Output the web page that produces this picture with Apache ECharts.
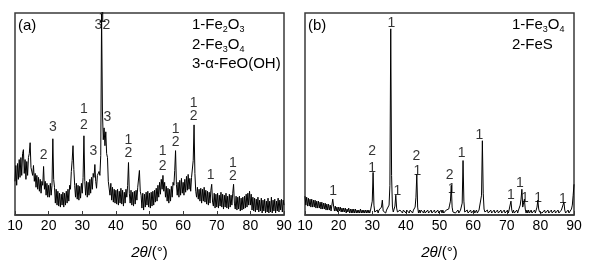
<!DOCTYPE html>
<html>
<head>
<meta charset="utf-8">
<script src="https://cdn.jsdelivr.net/npm/echarts@6/dist/echarts.min.js"></script>
<style>
  html, body { margin: 0; padding: 0; background: #fff; }
  #chart { width: 594px; height: 265px; }
</style>
</head>
<body>
<div id="chart"></div>
<script>
// 2θ sampling: 10° .. 90°, step 0.25°
const thetaStart = 10;
const thetaStep = 0.25;
const xTicks = [10, 20, 30, 40, 50, 60, 70, 80, 90];

// panel (a) intensity (arb. units), one row per 5°
const intensityA = [
  34, 50, 30, 52, 36, 56, 38, 58, 40, 62, 66, 42, 56, 36, 54, 40, 58, 62, 73, 48,
  48, 40, 50, 34, 42, 28, 40, 26, 38, 24, 36, 22, 34, 30, 49, 26, 34, 20, 32, 18,
  30, 18, 32, 20, 30, 77, 36, 28, 12, 26, 10, 24, 9, 22, 8, 21, 10, 23, 8, 22,
  10, 24, 12, 26, 14, 30, 26, 44, 55, 70, 46, 30, 18, 32, 16, 30, 15, 29, 17, 32,
  22, 38, 80, 34, 20, 34, 18, 33, 20, 36, 22, 38, 26, 42, 38, 51, 34, 27, 40, 38,
  44, 40, 60, 203, 105, 76, 88, 70, 84, 62, 58, 34, 32, 20, 32, 15, 28, 13, 26, 12,
  25, 11, 26, 10, 24, 12, 27, 11, 25, 9, 23, 12, 26, 18, 30, 53, 22, 12, 25, 10,
  23, 9, 24, 11, 25, 15, 28, 30, 45, 24, 20, 7, 22, 5, 21, 8, 23, 10, 24, 8,
  22, 7, 23, 9, 24, 10, 25, 13, 27, 14, 30, 18, 33, 21, 36, 26, 40, 24, 33, 18,
  29, 14, 27, 12, 26, 14, 29, 18, 33, 30, 45, 65, 31, 20, 33, 18, 35, 20, 37, 22,
  33, 20, 36, 23, 39, 25, 41, 26, 37, 24, 38, 40, 55, 91, 42, 24, 18, 28, 16, 26,
  14, 27, 12, 26, 14, 28, 13, 25, 11, 24, 10, 23, 12, 25, 31, 13, 9, 22, 7, 21,
  8, 22, 7, 20, 9, 23, 8, 21, 6, 20, 8, 22, 7, 19, 6, 21, 8, 20, 10, 22,
  31, 12, 6, 19, 5, 18, 6, 19, 4, 17, 5, 18, 6, 19, 7, 21, 8, 22, 10, 24,
  10, 21, 5, 18, 4, 17, 3, 16, 5, 18, 3, 15, 4, 17, 2, 15, 4, 16, 2, 14,
  3, 17, 2, 14, 3, 18, 2, 15, 4, 16, 2, 14, 4, 17, 3, 15, 5, 16, 3, 15,
  10
];

// panel (b) intensity (arb. units), one row per 5°
const intensityB = [
  19, 10, 18, 9, 17, 9, 16, 8, 16, 8, 15, 8, 15, 7, 14, 7, 14, 7, 13, 6,
  13, 6, 12, 6, 12, 5, 11, 5, 11, 5, 10, 4, 10, 16, 9, 4, 9, 4, 8, 3,
  8, 4, 8, 3, 7, 3, 7, 3, 7, 2, 6, 3, 7, 2, 6, 2, 6, 2, 6, 2,
  6, 2, 5, 2, 5, 2, 6, 2, 5, 2, 5, 2, 5, 2, 5, 2, 5, 2, 5, 6,
  14, 43, 10, 3, 5, 2, 5, 2, 5, 3, 6, 8, 15, 4, 3, 5, 2, 5, 3, 7,
  10, 30, 188, 40, 8, 3, 6, 9, 20, 7, 3, 5, 2, 5, 3, 5, 2, 5, 3, 5,
  2, 5, 3, 6, 2, 5, 3, 5, 2, 5, 3, 8, 18, 41, 8, 2, 5, 2, 5, 3,
  5, 2, 5, 2, 4, 2, 5, 2, 4, 2, 5, 2, 4, 2, 5, 2, 4, 2, 5, 2,
  4, 2, 5, 2, 5, 2, 4, 2, 5, 3, 5, 6, 10, 14, 30, 8, 3, 2, 5, 2,
  4, 2, 5, 2, 4, 5, 4, 12, 55, 14, 3, 5, 2, 5, 2, 4, 2, 5, 2, 4,
  2, 5, 2, 4, 5, 2, 4, 5, 4, 6, 20, 75, 22, 6, 3, 5, 2, 5, 2, 4,
  2, 5, 2, 4, 2, 5, 2, 4, 2, 5, 2, 4, 2, 5, 2, 4, 2, 5, 2, 4,
  2, 5, 2, 6, 8, 14, 5, 2, 5, 2, 4, 2, 5, 2, 5, 6, 10, 16, 26, 8,
  7, 16, 6, 2, 5, 2, 5, 2, 4, 5, 2, 4, 2, 5, 2, 5, 8, 15, 6, 3,
  2, 5, 2, 4, 2, 5, 2, 4, 2, 5, 2, 4, 2, 5, 2, 4, 2, 5, 2, 4,
  2, 5, 2, 4, 2, 5, 3, 7, 13, 5, 2, 4, 2, 5, 2, 4, 4, 6, 10, 20,
  31
];

// peak labels [2θ, height, phase]
const peakLabelsA = [
  [18.5, 60, "2"], [21.3, 89, "3"],
  [30.5, 107, "1"], [30.5, 91, "2"],
  [33.3, 64, "3"],
  [36.0, 199, "1"], [34.8, 192, "3"], [37.2, 192, "2"],
  [37.5, 99, "3"],
  [43.7, 76, "1"], [43.7, 62, "2"],
  [53.9, 64, "1"], [53.9, 49, "2"],
  [57.8, 87, "1"], [57.8, 74, "2"],
  [63.1, 113, "1"], [63.1, 100, "2"],
  [68.2, 40, "1"],
  [74.8, 52, "1"], [74.8, 39, "2"]
];
const peakLabelsB = [
  [18.4, 24, "1"],
  [30.0, 64, "2"], [30.0, 47, "1"],
  [35.7, 194, "1"],
  [37.5, 24, "1"],
  [43.1, 59, "2"], [43.4, 44, "1"],
  [53.0, 40, "2"], [53.6, 26, "1"],
  [56.6, 62, "1"],
  [61.9, 81, "1"],
  [71.2, 20, "1"],
  [73.9, 32, "1"],
  [75.4, 17, "1"],
  [79.3, 17, "1"],
  [86.7, 16, "1"]
];

const toPairs = (arr) => arr.map((v, i) => [thetaStart + i * thetaStep, v]);

const FONT = "Liberation Sans";
const INK = "#000";

const grids = [
  { left: 15, top: 13, width: 269, height: 204 },
  { left: 305, top: 13, width: 269, height: 204 }
].map((g) => ({
  ...g,
  show: true,
  borderColor: "#3a3a3a",
  borderWidth: 1.5,
  backgroundColor: "transparent"
}));

const makeX = (gridIndex) => ({
  type: "value",
  gridIndex,
  min: 10,
  max: 90,
  interval: 10,
  name: "{i|2θ}/(°)",
  nameLocation: "middle",
  nameGap: 30,
  nameTextStyle: {
    fontFamily: FONT,
    fontSize: 15,
    color: INK,
    rich: { i: { fontFamily: FONT, fontSize: 15, fontStyle: "italic", color: INK } }
  },
  axisLine: { show: true, lineStyle: { color: "#3a3a3a", width: 1.5 } },
  axisTick: { show: true, inside: true, length: 4, lineStyle: { color: "#3a3a3a" } },
  axisLabel: {
    fontFamily: FONT,
    fontSize: 14,
    color: INK,
    margin: 4,
    customValues: xTicks
  },
  splitLine: { show: false }
});

const makeY = (gridIndex) => ({
  type: "value",
  gridIndex,
  min: 0,
  max: 204,
  show: false,
  splitLine: { show: false }
});

const lineSeries = (idx, data) => ({
  type: "line",
  xAxisIndex: idx,
  yAxisIndex: idx,
  data: toPairs(data),
  showSymbol: false,
  symbol: "none",
  silent: true,
  clip: true,
  lineStyle: { color: "#000", width: 1 },
  animation: false
});

const labelSeries = (idx, data) => ({
  type: "scatter",
  xAxisIndex: idx,
  yAxisIndex: idx,
  data: data,
  symbolSize: 0,
  silent: true,
  animation: false,
  z: 5,
  label: {
    show: true,
    position: "inside",
    formatter: (p) => p.value[2],
    fontFamily: FONT,
    fontSize: 14,
    color: INK
  }
});

const sub = { fontFamily: FONT, fontSize: 9, color: INK, verticalAlign: "bottom", lineHeight: 19 };
const txt = (left, top, text) => ({
  type: "text",
  left,
  top,
  style: {
    text,
    fontFamily: FONT,
    fontSize: 15,
    fill: INK,
    lineHeight: 19,
    rich: {
      n: { fontFamily: FONT, fontSize: 15, color: INK, lineHeight: 19 },
      s: sub
    }
  }
});

const chart = echarts.init(document.getElementById("chart"), null, { renderer: "canvas" });
chart.setOption({
  animation: false,
  grid: grids,
  xAxis: [makeX(0), makeX(1)],
  yAxis: [makeY(0), makeY(1)],
  series: [
    lineSeries(0, intensityA),
    lineSeries(1, intensityB),
    labelSeries(0, peakLabelsA),
    labelSeries(1, peakLabelsB)
  ],
  graphic: [
    txt(18, 16, "(a)"),
    txt(192, 15, "{n|1-Fe}{s|2}{n|O}{s|3}"),
    txt(192, 35, "{n|2-Fe}{s|3}{n|O}{s|4}"),
    txt(192, 54, "3-α-FeO(OH)"),
    txt(308, 16, "(b)"),
    txt(512, 15, "{n|1-Fe}{s|3}{n|O}{s|4}"),
    txt(512, 35, "2-FeS")
  ]
});
</script>
</body>
</html>
